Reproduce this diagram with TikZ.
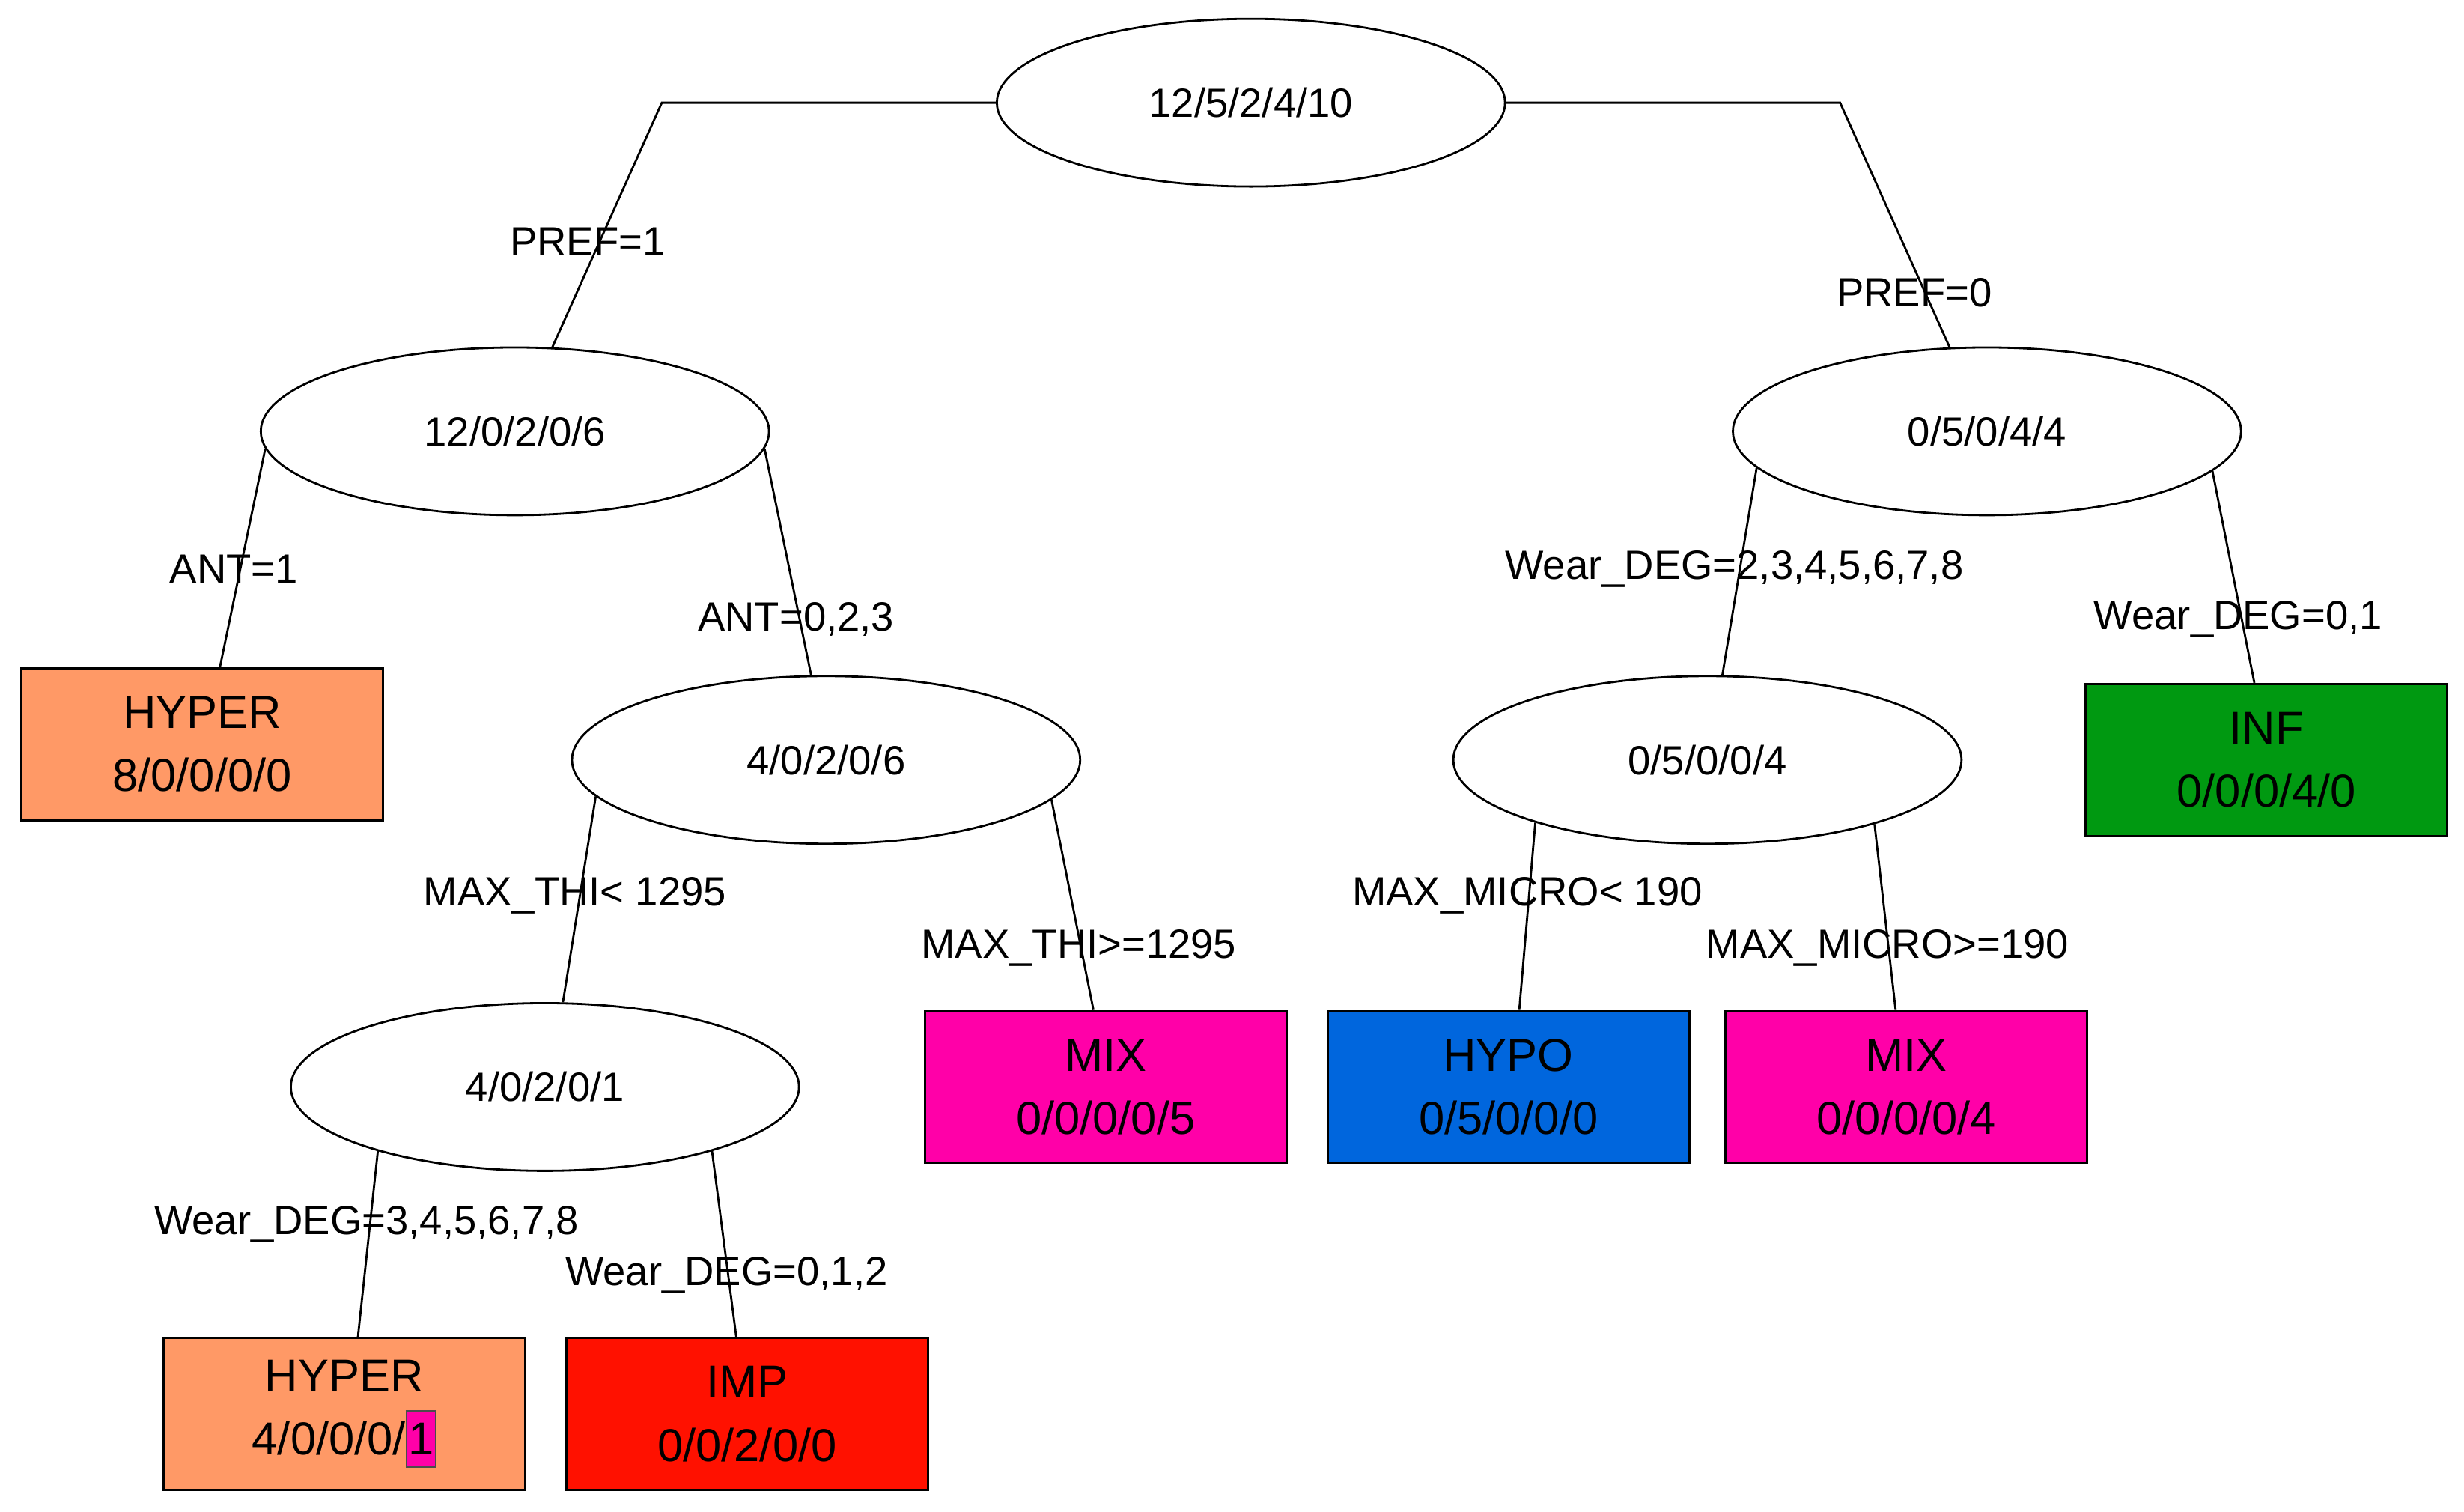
\documentclass[tikz,border=0pt]{standalone}
\usepackage{fontspec}
\setmainfont{Liberation Sans}
\usetikzlibrary{shapes.geometric}
\definecolor{cor}{HTML}{FF9966}
\definecolor{cmag}{HTML}{FF00A8}
\definecolor{cblue}{HTML}{0066DD}
\definecolor{cgreen}{HTML}{009911}
\definecolor{cred}{HTML}{FF1100}
\begin{document}
\begin{tikzpicture}[x=0.0211cm,y=-0.0211cm,line width=0.8pt,
  ell/.style={draw,ellipse,minimum width=6.79cm,minimum height=2.24cm,inner sep=0pt,font=\fontsize{15.5}{18}\selectfont},
  leaf/.style={draw,rectangle,minimum width=4.83cm,minimum height=2.03cm,inner sep=0pt,align=center,font=\fontsize{17.5}{24}\selectfont},
  lab/.style={font=\fontsize{15.5}{18}\selectfont,inner sep=0pt}]
\useasboundingbox (0,0) rectangle (1560,957);
\node[ell] (root) at (792,65) {12/5/2/4/10};
\node[ell] (n1) at (326,273) {12/0/2/0/6};
\node[ell] (n2) at (1258,273) {0/5/0/4/4};
\node[ell] (n3) at (523,481) {4/0/2/0/6};
\node[ell] (n4) at (1081,481) {0/5/0/0/4};
\node[ell] (n5) at (345,688) {4/0/2/0/1};
\node[leaf,fill=cor] (h1) at (128,471) {HYPER\\8/0/0/0/0};
\node[leaf,fill=cgreen] (inf) at (1435,481) {INF\\0/0/0/4/0};
\node[leaf,fill=cmag] (mix1) at (700,688) {MIX\\0/0/0/0/5};
\node[leaf,fill=cblue] (hypo) at (955,688) {HYPO\\0/5/0/0/0};
\node[leaf,fill=cmag] (mix2) at (1207,688) {MIX\\0/0/0/0/4};
\node[leaf,fill=cor] (h2) at (218,895) {HYPER\\4/0/0/0/{\setlength\fboxsep{0.5pt}\setlength\fboxrule{0.5pt}\fcolorbox{black!70}{cmag}{\rule[-4pt]{0pt}{20pt}1}}};
\node[leaf,fill=cred] (imp) at (473,895) {IMP\\0/0/2/0/0};
\coordinate (eL) at (419,65);
\coordinate (eR) at (1165,65);
\draw (root.west) -- (eL) -- (n1.66);
\draw (root.east) -- (eR) -- (n2.114);
\draw (n1.184) -- (h1.77);
\draw (n1.356) -- (n3.100.5);
\draw (n3.189.7) -- (n5.78.5);
\draw (n3.350.3) -- (mix1.99.5);
\draw (n2.189.7) -- (n4.80.5);
\draw (n2.350.6) -- (inf.99.5);
\draw (n4.200.2) -- (hypo.82.9);
\draw (n4.339.9) -- (mix2.98.3);
\draw (n5.201.6) -- (h2.80.5);
\draw (n5.339.1) -- (imp.98.3);
\node[lab] (l1) at (372,153) {PREF=1};
\node[lab] (l2) at (1212,185) {PREF=0};
\node[lab] (l3) at (148,360) {ANT=1};
\node[lab] (l4) at (504,392) {ANT=0,2,3};
\node[lab] (l5) at (1098,360) {Wear\_DEG=2,3,4,5,6,7,8};
\node[lab] (l6) at (1417,392) {Wear\_DEG=0,1};
\node[lab] (l7) at (364,567) {MAX\_THI< 1295};
\node[lab] (l8) at (683,600) {MAX\_THI>=1295};
\node[lab] (l9) at (967,567) {MAX\_MICRO< 190};
\node[lab] (l10) at (1195,600) {MAX\_MICRO>=190};
\node[lab] (l11) at (232,775) {Wear\_DEG=3,4,5,6,7,8};
\node[lab] (l12) at (460,807) {Wear\_DEG=0,1,2};
\end{tikzpicture}
\end{document}
